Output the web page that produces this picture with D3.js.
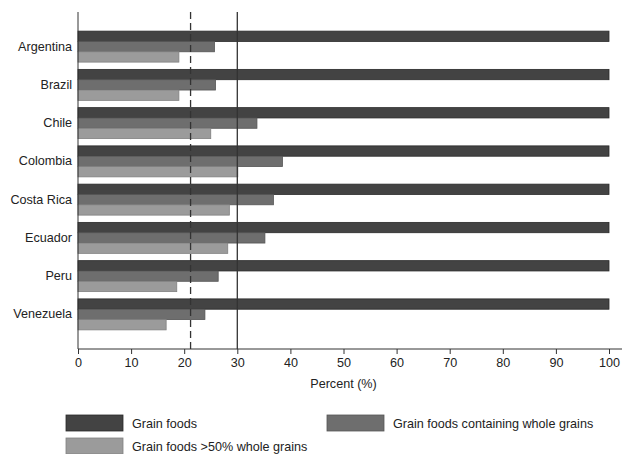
<!DOCTYPE html>
<html>
<head>
<meta charset="utf-8">
<script src="https://cdn.jsdelivr.net/npm/d3@7"></script>
<style>
  body { margin: 0; background: #fff; }
  svg { display: block; font-family: "Liberation Sans", Arial, sans-serif; }
</style>
</head>
<body>
<div id="chart"></div>
<script>
const countries = ["Argentina", "Brazil", "Chile", "Colombia", "Costa Rica", "Ecuador", "Peru", "Venezuela"];
const grainFoods = [100, 100, 100, 100, 100, 100, 100, 100];
const wholeGrains = [25.7, 25.9, 33.7, 38.5, 36.8, 35.2, 26.4, 23.9];
const over50 = [19.0, 19.0, 25.0, 30.1, 28.5, 28.2, 18.6, 16.6];
const seriesNames = ["Grain foods", "Grain foods containing whole grains", "Grain foods >50% whole grains"];
const refLines = [21.2, 30];
const xTicks = [0, 10, 20, 30, 40, 50, 60, 70, 80, 90, 100];

const colors = ["#434343", "#6e6e6e", "#9b9b9b"];
const strokes = ["#2a2a2a", "#555", "#808080"];
const fontSize = "12.6px";

const width = 622, height = 454;
const margin = { top: 12, left: 78, bottom: 105 };
const plotBottom = height - margin.bottom; // 349

const svg = d3.select("#chart").append("svg")
    .attr("width", width)
    .attr("height", height);

const x = d3.scaleLinear()
    .domain([0, 100])
    .range([margin.left, 609]);

const y = d3.scaleBand()
    .domain(countries)
    .range([margin.top, plotBottom])
    .paddingInner(0.19)
    .paddingOuter(0.5);

const sub = d3.scaleBand()
    .domain([0, 1, 2])
    .range([0, y.bandwidth()]);

const series = [grainFoods, wholeGrains, over50];

// bars
series.forEach((vals, s) => {
    svg.append("g")
        .selectAll("rect")
        .data(countries)
        .enter()
        .append("rect")
        .attr("x", x(0))
        .attr("y", d => y(d) + sub(s))
        .attr("width", (d, i) => x(vals[i]) - x(0))
        .attr("height", sub.bandwidth())
        .attr("fill", colors[s])
        .attr("stroke", strokes[s])
        .attr("stroke-width", 0.8);
});

// reference lines
svg.selectAll(".ref")
    .data(refLines)
    .enter()
    .append("line")
    .attr("x1", d => x(d))
    .attr("x2", d => x(d))
    .attr("y1", margin.top)
    .attr("y2", plotBottom)
    .attr("stroke", "#333")
    .attr("stroke-width", 1.3)
    .attr("stroke-dasharray", (d, i) => i === 0 ? "7,4" : null);

// x axis
const xAxis = svg.append("g")
    .attr("transform", `translate(0,${plotBottom})`)
    .call(d3.axisBottom(x).tickValues(xTicks).tickSize(5).tickPadding(4));
xAxis.select(".domain").remove();
xAxis.selectAll(".tick line").attr("stroke", "#333");
xAxis.selectAll("text").style("font-size", fontSize).attr("fill", "#222");
svg.append("line")
    .attr("x1", margin.left)
    .attr("x2", width)
    .attr("y1", plotBottom)
    .attr("y2", plotBottom)
    .attr("stroke", "#333");

// y axis
const yAxis = svg.append("g")
    .attr("transform", `translate(${margin.left},0)`)
    .call(d3.axisLeft(y).tickSize(0).tickPadding(6));
yAxis.select(".domain").remove();
yAxis.selectAll("text").style("font-size", fontSize).attr("fill", "#222");
svg.append("line")
    .attr("x1", margin.left)
    .attr("x2", margin.left)
    .attr("y1", margin.top)
    .attr("y2", plotBottom)
    .attr("stroke", "#333");

svg.append("text")
    .attr("x", (x(0) + x(100)) / 2)
    .attr("y", 388)
    .attr("text-anchor", "middle")
    .style("font-size", fontSize)
    .attr("fill", "#222")
    .text("Percent (%)");

// legend
const legendPos = [[66, 415], [327, 415], [66, 438]];
const legend = svg.selectAll(".legend")
    .data(seriesNames)
    .enter()
    .append("g")
    .attr("transform", (d, i) => `translate(${legendPos[i][0]},${legendPos[i][1]})`);
legend.append("rect")
    .attr("width", 57)
    .attr("height", 16)
    .attr("fill", (d, i) => colors[i])
    .attr("stroke", (d, i) => strokes[i])
    .attr("stroke-width", 0.8);
legend.append("text")
    .attr("x", 66)
    .attr("y", 12.5)
    .style("font-size", fontSize)
    .attr("fill", "#222")
    .text(d => d);
</script>
</body>
</html>
